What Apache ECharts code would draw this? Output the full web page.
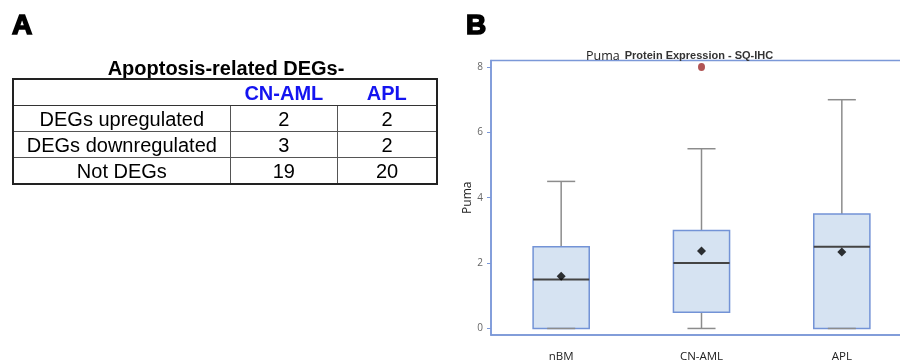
<!DOCTYPE html>
<html>
<head>
<meta charset="utf-8">
<script src="https://cdn.jsdelivr.net/npm/echarts@6/dist/echarts.min.js"></script>
<style>
  html, body { margin: 0; padding: 0; background: #fff; }
  #wrap { position: relative; width: 900px; height: 363px; overflow: hidden; }
  #chart { position: absolute; left: 0; top: 0; width: 900px; height: 363px; }
  .panel { position: absolute; font: bold 28px "Liberation Sans", Arial, sans-serif; line-height: 1; -webkit-text-stroke: 1.6px #000; }
  #degTitle { position: absolute; left: 12px; width: 428px; top: 57px; text-align: center; font: bold 20px "Liberation Sans", Arial, sans-serif; line-height: 22px; }
  #degTable { position: absolute; left: 12px; top: 78px; width: 426px; border-collapse: collapse; font: 20px "Liberation Sans", Arial, sans-serif; border: 2px solid #222; }
  #degTable td { height: 25px; padding: 0; text-align: center; line-height: 22px; }
  #degTable tr.body td { border: 1.5px solid #555; }
  #degTable th { height: 25px; padding: 0; color: #1414f0; font-weight: bold; border-bottom: 1.5px solid #333; line-height: 22px; }
</style>
</head>
<body>
<div id="wrap">
  <div id="chart"></div>
  <div class="panel" style="left:12px;top:11px;">A</div>
  <div class="panel" style="left:466px;top:11px;">B</div>
  <div id="degTitle">Apoptosis-related DEGs-</div>
  <table id="degTable"></table>
</div>
<script>
// panel A table
const tableGroups = ["CN-AML", "APL"];
const degRows = ["DEGs upregulated", "DEGs downregulated", "Not DEGs"];
const cnAmlCounts = [2, 3, 19];
const aplCounts = [2, 2, 20];

// panel B boxplot
const categories = ["nBM", "CN-AML", "APL"];
const whiskerLow = [0, 0, 0];
const quartile1 = [0, 0.5, 0];
const medians = [1.5, 2, 2.5];
const quartile3 = [2.5, 3, 3.5];
const whiskerHigh = [4.5, 5.5, 7];
const means = [1.6, 2.37, 2.34];
const outlierGroups = ["CN-AML"];
const outlierValues = [8];
const yTicks = [0, 2, 4, 6, 8];

const table = document.getElementById("degTable");
let html = '<colgroup><col style="width:218px"><col style="width:108px"><col style="width:100px"></colgroup>';
html += "<tr><th></th>" + tableGroups.map(g => `<th>${g}</th>`).join("") + "</tr>";
degRows.forEach((row, i) => {
  html += `<tr class="body"><td>${row}</td><td>${cnAmlCounts[i]}</td><td>${aplCounts[i]}</td></tr>`;
});
table.innerHTML = html;

const blue = "#7b98d8";
const chart = echarts.init(document.getElementById("chart"));

function renderBox(params, api) {
  const i = api.value(0);
  const lo = api.coord([i, api.value(1)]);
  const q1 = api.coord([i, api.value(2)]);
  const med = api.coord([i, api.value(3)]);
  const q3 = api.coord([i, api.value(4)]);
  const hi = api.coord([i, api.value(5)]);
  const band = api.size([1, 0])[0];
  const bw = band * 0.4, cw = band * 0.2, cx = lo[0];
  const gray = { stroke: "#8c8c8c", lineWidth: 1.5 };
  return {
    type: "group",
    children: [
      { type: "line", shape: { x1: cx, y1: q3[1], x2: cx, y2: hi[1] }, style: gray },
      { type: "line", shape: { x1: cx, y1: lo[1], x2: cx, y2: q1[1] }, style: gray },
      { type: "rect", shape: { x: cx - bw / 2, y: q3[1], width: bw, height: q1[1] - q3[1] },
        style: { fill: "#d6e3f2", stroke: "#7393d6", lineWidth: 1.5 } },
      { type: "line", shape: { x1: cx - bw / 2, y1: med[1], x2: cx + bw / 2, y2: med[1] }, style: { stroke: "#444", lineWidth: 2 } },
      { type: "line", shape: { x1: cx - cw / 2, y1: hi[1], x2: cx + cw / 2, y2: hi[1] }, style: gray },
      { type: "line", shape: { x1: cx - cw / 2, y1: lo[1], x2: cx + cw / 2, y2: lo[1] }, style: gray },
    ],
  };
}

chart.setOption({
  animation: false,
  title: {
    text: "{a|Puma} {b|Protein Expression - SQ-IHC}",
    left: 581, top: 42,
    textStyle: {
      rich: {
        a: { fontFamily: "Open Sans", fontSize: 12.5, fontWeight: "normal", color: "#222" },
        b: { fontFamily: "Liberation Sans", fontSize: 11, fontWeight: "bold", color: "#333" },
      },
    },
  },
  grid: {
    left: 491, top: 60.5, width: 421, bottom: 28,
    outerBoundsMode: "none", containLabel: false,
    show: true, borderColor: blue, borderWidth: 1.5,
  },
  xAxis: {
    type: "category",
    data: categories,
    axisLine: { onZero: false, lineStyle: { color: blue, width: 1.5 } },
    axisTick: { alignWithLabel: true, length: 5, lineStyle: { color: blue } },
    axisLabel: { margin: 16, fontFamily: "Open Sans", fontSize: 11.5, color: "#222" },
  },
  yAxis: {
    type: "value",
    min: -0.2, max: 8.2,
    name: "Puma", nameLocation: "middle", nameGap: 17, nameRotate: 90,
    nameTextStyle: { fontFamily: "Open Sans", fontSize: 12, color: "#222" },
    axisLine: { show: true, lineStyle: { color: blue, width: 1.5 } },
    axisTick: { show: true, length: 4, customValues: yTicks, lineStyle: { color: blue } },
    axisLabel: { customValues: yTicks, margin: 8, fontFamily: "Open Sans", fontSize: 10, color: "#666" },
    splitLine: { show: false },
  },
  series: [
    {
      type: "custom",
      renderItem: renderBox,
      encode: { x: 0, y: [1, 2, 3, 4, 5] },
      data: categories.map((c, i) => [i, whiskerLow[i], quartile1[i], medians[i], quartile3[i], whiskerHigh[i]]),
      z: 2,
    },
    {
      type: "scatter",
      symbol: "diamond",
      symbolSize: 9,
      itemStyle: { color: "#000" },
      data: means.map((m, i) => [i, m]),
      z: 3,
    },
    {
      type: "scatter",
      symbol: "circle",
      symbolSize: [7, 8],
      itemStyle: { color: "#9e2b2b" },
      data: outlierGroups.map((g, i) => [categories.indexOf(g), outlierValues[i]]),
      z: 3,
    },
  ],
});
</script>
</body>
</html>
